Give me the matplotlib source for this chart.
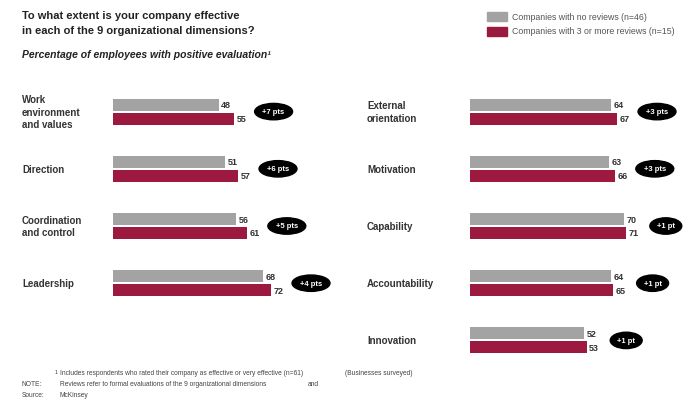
import matplotlib.pyplot as plt
from matplotlib.transforms import blended_transform_factory

plt.rcParams['font.family'] = ['Liberation Sans', 'DejaVu Sans']

# data
left_dims = ['Work\nenvironment\nand values', 'Direction', 'Coordination\nand control', 'Leadership']
left_none = [48, 51, 56, 68]
left_more = [55, 57, 61, 72]

right_dims = ['External\norientation', 'Motivation', 'Capability', 'Accountability', 'Innovation']
right_none = [64, 63, 70, 64, 52]
right_more = [67, 66, 71, 65, 53]

series_names = ['Companies with no reviews (n=46)', 'Companies with 3 or more reviews (n=15)']

GRAY = '#a3a3a3'
RED = '#9c1a40'

W, H = 689, 406
fig = plt.figure(figsize=(W / 100, H / 100), dpi=100)


def px_ax(x0, y0, w, h):
    # axes from pixel box (top-left origin)
    return fig.add_axes([x0 / W, 1 - (y0 + h) / H, w / W, h / H])


def draw_panel(ax, dims, none, more, label_x):
    n = len(dims)
    ys = list(range(n))
    bh = 0.21
    ax.barh([y - 0.122 for y in ys], none, height=bh, color=GRAY)
    ax.barh([y + 0.122 for y in ys], more, height=bh, color=RED)
    ax.set_xlim(0, 100)
    ax.set_ylim(4.5, -0.5)
    ax.axis('off')
    tr = blended_transform_factory(fig.transFigure, ax.transData)
    for y, d, a, b in zip(ys, dims, none, more):
        ax.text(label_x / W, y, d, transform=tr, ha='left', va='center',
                fontsize=7, fontweight='bold', color='#333333', linespacing=1.35)
        ax.text(a + 1.2, y - 0.122, str(a), ha='left', va='center',
                fontsize=6.5, fontweight='bold', color='#333333')
        ax.text(b + 1.2, y + 0.122, str(b), ha='left', va='center',
                fontsize=6.5, fontweight='bold', color='#333333')
        diff = b - a
        lab = '+%d pt' % diff if diff == 1 else '+%d pts' % diff
        ax.text(max(a, b) + 18, y, lab, ha='center', va='center',
                fontsize=5.5, fontweight='bold', color='white', clip_on=False,
                bbox=dict(boxstyle='ellipse,pad=0.3', fc='black', ec='black'))


axl = px_ax(113, 84, 220, 286)
draw_panel(axl, left_dims, left_none, left_more, 22)
axr = px_ax(470, 84, 220, 286)
draw_panel(axr, right_dims, right_none, right_more, 367)

# title
fig.text(22 / W, 1 - 11 / H, 'To what extent is your company effective\nin each of the 9 organizational dimensions?',
         ha='left', va='top', fontsize=8, fontweight='bold', color='#222222', linespacing=1.65)
fig.text(22 / W, 1 - 55 / H, 'Percentage of employees with positive evaluation\u00b9',
         ha='left', va='center', fontsize=7.5, fontweight='bold', style='italic', color='#222222')

# legend
for i, (name, c) in enumerate(zip(series_names, [GRAY, RED])):
    yc = 17 + i * 15
    fig.patches.append(plt.Rectangle((487 / W, 1 - (yc + 4.5) / H), 20 / W, 9 / H,
                                     transform=fig.transFigure, color=c))
    fig.text(512 / W, 1 - yc / H, name, ha='left', va='center', fontsize=6.3, color='#555555')

# footnotes
fs = 4.8
fig.text(55 / W, 1 - 373 / H, '1', ha='left', va='center', fontsize=4, color='#444444')
fig.text(60 / W, 1 - 374 / H, 'Includes respondents who rated their company as effective or very effective (n=61)',
         ha='left', va='center', fontsize=fs, color='#444444')
fig.text(345 / W, 1 - 374 / H, '(Businesses surveyed)', ha='left', va='center', fontsize=fs, color='#444444')
fig.text(22 / W, 1 - 385 / H, 'NOTE:', ha='left', va='center', fontsize=fs, color='#444444')
fig.text(60 / W, 1 - 385 / H, 'Reviews refer to formal evaluations of the 9 organizational dimensions',
         ha='left', va='center', fontsize=fs, color='#444444')
fig.text(308 / W, 1 - 385 / H, 'and', ha='left', va='center', fontsize=fs, color='#444444')
fig.text(22 / W, 1 - 396 / H, 'Source:', ha='left', va='center', fontsize=fs, color='#444444')
fig.text(60 / W, 1 - 396 / H, 'McKinsey', ha='left', va='center', fontsize=fs, color='#444444')

fig.savefig('out.png', dpi=100)
